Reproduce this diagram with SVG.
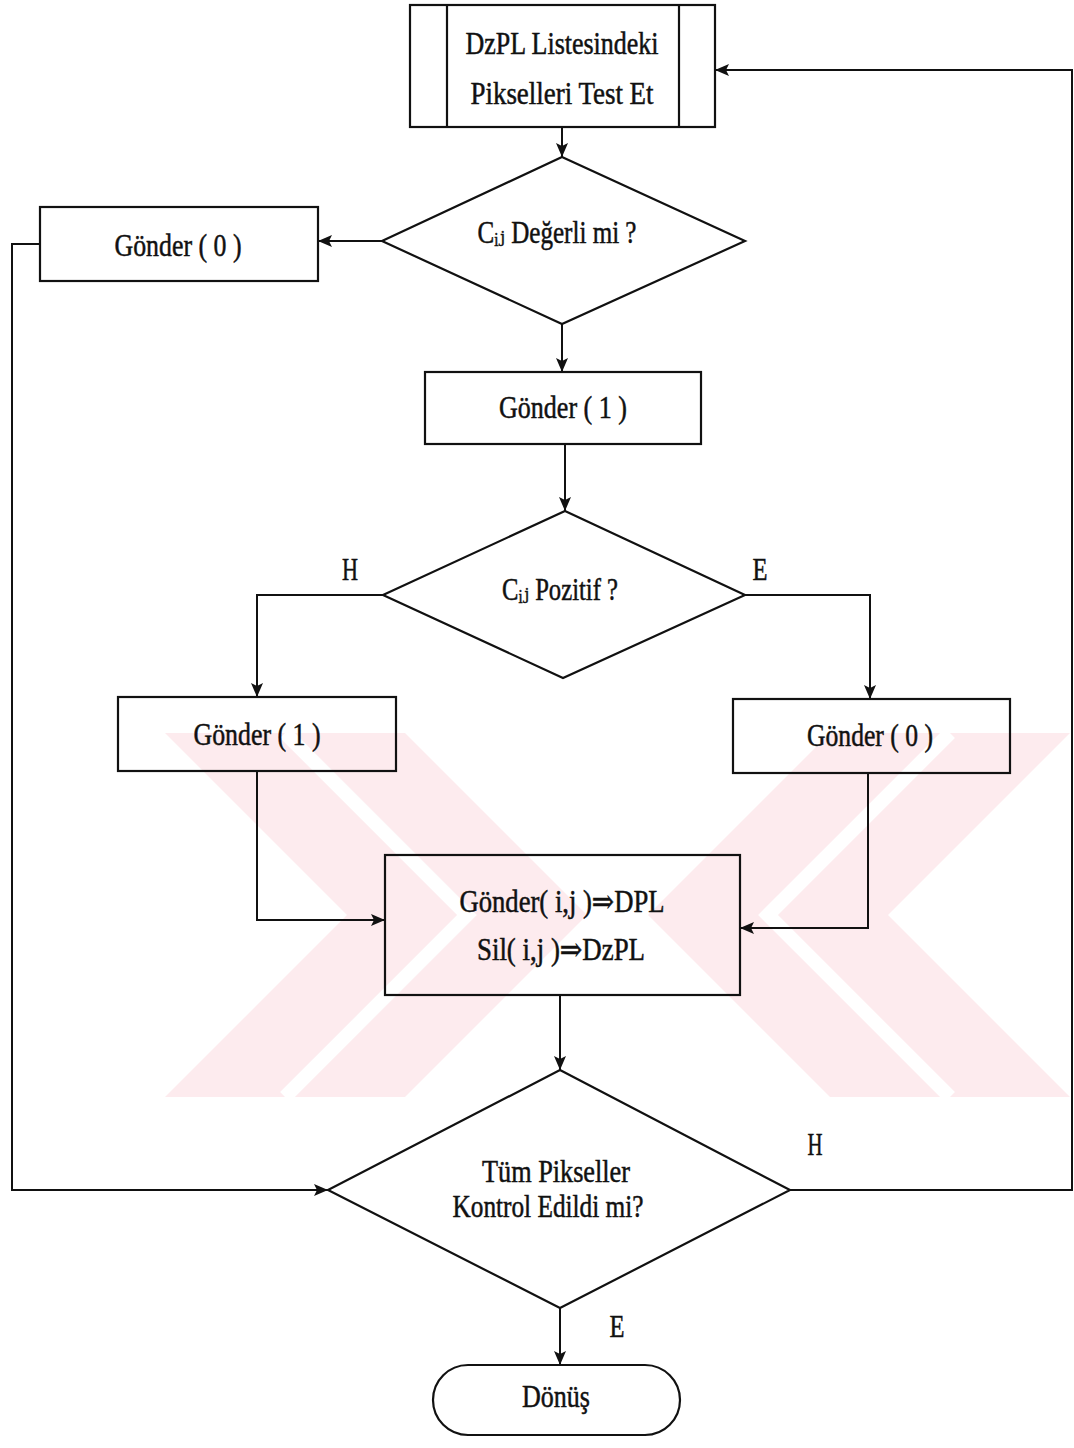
<svg xmlns="http://www.w3.org/2000/svg" width="1074" height="1448" viewBox="0 0 1074 1448">
  <style>
    .shape { fill: none; stroke: #111; stroke-width: 2.2; }
    .wire { fill: none; stroke: #111; stroke-width: 2; }
    .lbl { font-family: "Liberation Serif", "DejaVu Serif", "Times New Roman", serif; font-size: 31px; fill: #111; stroke: #111; stroke-width: 0.5; text-anchor: middle; }
    .wm { fill: #fdebee; }
    .wmcut { fill: none; stroke: #ffffff; stroke-width: 14; }
  </style>
  <defs>
    <marker id="arrow" viewBox="0 0 14 12" refX="14" refY="6" markerWidth="14" markerHeight="12" markerUnits="userSpaceOnUse" orient="auto">
      <path d="M0,0 L14,6 L0,12 L3,6 z" fill="#111"/>
    </marker>
  </defs>

  <rect width="1074" height="1448" fill="#ffffff"/>

  <!-- background emblem -->
  <g id="emblem">
    <polygon class="wm" points="165,733 405,733 587,915 405,1097 165,1097 347,915"/>
    <polygon class="wm" points="830,733 1070,733 888,915 1070,1097 830,1097 648,915"/>
    <polyline class="wmcut" points="285,733 467,915 285,1097"/>
    <polyline class="wmcut" points="950,733 768,915 950,1097"/>
  </g>

  <!-- connectors -->
  <g id="connectors">
    <path class="wire" d="M790,1190 H1072 V70 H715" marker-end="url(#arrow)"/>
    <path class="wire" d="M562,127 V157" marker-end="url(#arrow)"/>
    <path class="wire" d="M382,241 H318" marker-end="url(#arrow)"/>
    <path class="wire" d="M40,244 H12 V1190 H328" marker-end="url(#arrow)"/>
    <path class="wire" d="M562,324 V372" marker-end="url(#arrow)"/>
    <path class="wire" d="M565,444 V511" marker-end="url(#arrow)"/>
    <path class="wire" d="M383,595 H257 V697" marker-end="url(#arrow)"/>
    <path class="wire" d="M745,595 H870 V699" marker-end="url(#arrow)"/>
    <path class="wire" d="M257,771 V920 H385" marker-end="url(#arrow)"/>
    <path class="wire" d="M868,773 V928 H740" marker-end="url(#arrow)"/>
    <path class="wire" d="M560,995 V1070" marker-end="url(#arrow)"/>
    <path class="wire" d="M560,1308 V1365" marker-end="url(#arrow)"/>
  </g>

  <!-- predefined process: test pixels -->
  <g id="test-pixels">
    <rect class="shape" x="410" y="5" width="305" height="122"/>
    <line class="shape" x1="447" y1="5" x2="447" y2="127"/>
    <line class="shape" x1="679" y1="5" x2="679" y2="127"/>
    <text class="lbl" x="562" y="54" textLength="193" lengthAdjust="spacingAndGlyphs">DzPL Listesindeki</text>
    <text class="lbl" x="562" y="104" textLength="183" lengthAdjust="spacingAndGlyphs">Pikselleri Test Et</text>
  </g>

  <g id="send0-left">
    <rect class="shape" x="40" y="207" width="278" height="74"/>
    <text class="lbl" x="178" y="256" textLength="127" lengthAdjust="spacingAndGlyphs">Gönder ( 0 )</text>
  </g>

  <g id="is-significant">
    <polygon class="shape" points="562,157 745,241 562,324 382,241"/>
    <text class="lbl" x="557" y="243" textLength="159" lengthAdjust="spacingAndGlyphs">Cᵢⱼ Değerli mi ?</text>
  </g>

  <g id="send1-center">
    <rect class="shape" x="425" y="372" width="276" height="72"/>
    <text class="lbl" x="563" y="418" textLength="128" lengthAdjust="spacingAndGlyphs">Gönder ( 1 )</text>
  </g>

  <g id="is-positive">
    <polygon class="shape" points="565,511 745,595 563,678 383,595"/>
    <text class="lbl" x="560" y="600" textLength="116" lengthAdjust="spacingAndGlyphs">Cᵢⱼ Pozitif ?</text>
    <text class="lbl" x="350" y="580" textLength="16" lengthAdjust="spacingAndGlyphs">H</text>
    <text class="lbl" x="760" y="580" textLength="15" lengthAdjust="spacingAndGlyphs">E</text>
  </g>

  <g id="send1-left">
    <rect class="shape" x="118" y="697" width="278" height="74"/>
    <text class="lbl" x="257" y="745" textLength="127" lengthAdjust="spacingAndGlyphs">Gönder ( 1 )</text>
  </g>

  <g id="send0-right">
    <rect class="shape" x="733" y="699" width="277" height="74"/>
    <text class="lbl" x="870" y="746" textLength="126" lengthAdjust="spacingAndGlyphs">Gönder ( 0 )</text>
  </g>

  <g id="move-pixel">
    <rect class="shape" x="385" y="855" width="355" height="140"/>
    <text class="lbl" x="562" y="912" textLength="205" lengthAdjust="spacingAndGlyphs">Gönder( i,j )⇒DPL</text>
    <text class="lbl" x="561" y="960" textLength="168" lengthAdjust="spacingAndGlyphs">Sil( i,j )⇒DzPL</text>
  </g>

  <g id="all-checked">
    <polygon class="shape" points="560,1070 790,1190 560,1308 328,1190"/>
    <text class="lbl" x="556" y="1182" textLength="148" lengthAdjust="spacingAndGlyphs">Tüm Pikseller</text>
    <text class="lbl" x="548" y="1217" textLength="191" lengthAdjust="spacingAndGlyphs">Kontrol Edildi mi?</text>
    <text class="lbl" x="815" y="1155" textLength="15" lengthAdjust="spacingAndGlyphs">H</text>
    <text class="lbl" x="617" y="1337" textLength="15" lengthAdjust="spacingAndGlyphs">E</text>
  </g>

  <g id="return">
    <rect class="shape" x="433" y="1365" width="247" height="70" rx="35" ry="35"/>
    <text class="lbl" x="556" y="1407" textLength="68" lengthAdjust="spacingAndGlyphs">Dönüş</text>
  </g>
</svg>
